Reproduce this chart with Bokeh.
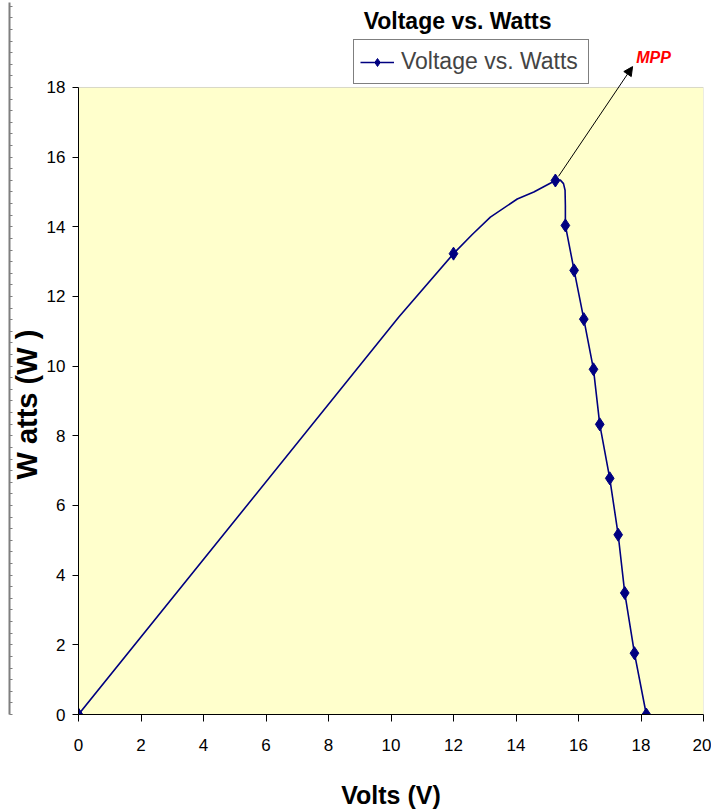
from bokeh.plotting import figure
from bokeh.models import (Range1d, Label, Arrow, NormalHead, Legend, LegendItem,
                          BoxAnnotation, Title, LinearAxis, FixedTicker)
from bokeh.embed import file_html
from bokeh.resources import INLINE

# Marked data points (diamonds)
volts_marked = [0, 12.0, 15.26, 15.58, 15.86, 16.17, 16.48, 16.68, 17.0, 17.27, 17.48, 17.79, 18.17]
watts_marked = [0, 13.23, 15.33, 14.04, 12.75, 11.35, 9.91, 8.33, 6.78, 5.16, 3.49, 1.76, 0]

# Traced smoothed curve
volts_curve = [0, 10.25, 12.0, 12.6, 13.18, 14.04, 14.57, 15.26, 15.42, 15.52, 15.57, 15.58,
               15.58, 15.86, 16.17, 16.48, 16.68, 17.0, 17.27, 17.48, 17.79, 18.17]
watts_curve = [0, 11.41, 13.23, 13.78, 14.28, 14.80, 15.0, 15.33, 15.34, 15.24, 15.05, 14.6,
               14.04, 12.75, 11.35, 9.91, 8.33, 6.78, 5.16, 3.49, 1.76, 0]

x_ticks = [0, 2, 4, 6, 8, 10, 12, 14, 16, 18, 20]
y_ticks = [0, 2, 4, 6, 8, 10, 12, 14, 16, 18]
x_min, x_max = 0, 20
y_min, y_max = 0, 18
y_view_top = 20.44   # frame extends above the plot area to hold title / legend

# decorative page-edge ruler at the far left (tick spacing in watt units)
ruler_ticks = [i / 3 for i in range(0, 62)]

title_text = "Voltage vs. Watts"
series_name = "Voltage vs. Watts"
x_label = "Volts (V)"
y_label = "W atts (W )"
mpp_text = "MPP"
title_pos = (12.13, 19.9)
mpp_arrow_start = (15.36, 15.45)
mpp_arrow_end = (17.73, 18.6)
mpp_label_pos = (18.4, 18.86)

NAVY = "#000080"
FONT = "Liberation Sans"

p = figure(width=711, height=812, x_range=Range1d(x_min, x_max), y_range=Range1d(y_min, y_view_top),
           output_backend="svg", toolbar_location=None,
           min_border_left=78, min_border_right=8, min_border_top=2, min_border_bottom=98)

p.background_fill_color = "white"
p.border_fill_color = "white"
p.outline_line_color = None
p.xgrid.visible = False
p.ygrid.visible = False

p.add_layout(BoxAnnotation(left=x_min, right=x_max, bottom=y_min, top=y_max,
                           fill_color="#FFFFCC", fill_alpha=1.0,
                           line_color="#808080", line_width=1, level="underlay"))

for ax, ticks in ((p.xaxis, x_ticks), (p.yaxis, y_ticks)):
    ax.ticker = ticks
    ax.axis_line_color = "black"
    ax.major_tick_line_color = "black"
    ax.minor_tick_line_color = None
    ax.major_tick_in = 0
    ax.major_label_text_font = FONT
    ax.major_label_text_font_size = "17px"
    ax.major_label_text_color = "black"
    ax.axis_label_text_font = FONT
    ax.axis_label_text_font_style = "bold"
    ax.axis_label_text_color = "black"

p.yaxis.bounds = (y_min, y_max)

p.xaxis.major_tick_out = 7
p.xaxis.major_label_standoff = 17
p.xaxis.axis_label = x_label
p.xaxis.axis_label_text_font_size = "25px"
p.xaxis.axis_label_standoff = 27

p.yaxis.major_tick_out = 6
p.yaxis.major_label_standoff = 7

# y-axis title placed along the plot area (not the whole frame)
p.add_layout(Title(text=y_label, align="left", offset=235, vertical_align="middle",
                   text_font=FONT, text_font_style="bold", text_font_size="29px",
                   text_color="black", standoff=0), "left")

# page-edge ruler line (minor ticks only, so it carries no labels)
ruler = LinearAxis(ticker=FixedTicker(ticks=[], minor_ticks=ruler_ticks),
                   axis_line_color="#7F7F7F", axis_line_width=2,
                   major_tick_line_color=None, major_tick_in=0, major_tick_out=0,
                   major_label_standoff=0,
                   minor_tick_line_color="#7F7F7F", minor_tick_in=3, minor_tick_out=0)
p.add_layout(ruler, "left")

line_r = p.line(volts_curve, watts_curve, line_color=NAVY, line_width=1.6)
marker_r = p.scatter(volts_marked, watts_marked, marker="diamond", size=13,
                     fill_color=NAVY, line_color=NAVY)

legend = Legend(items=[LegendItem(label=series_name, renderers=[line_r, marker_r])],
                location=(275, 630))
legend.border_line_color = "black"
legend.border_line_width = 1
legend.background_fill_color = "white"
legend.background_fill_alpha = 1
legend.label_text_font = FONT
legend.label_text_font_size = "23px"
legend.glyph_width = 34
legend.glyph_height = 20
legend.label_standoff = 7
legend.label_height = 31
legend.label_width = 181
legend.padding = 6
legend.margin = 0
p.add_layout(legend, "center")

p.add_layout(Label(x=title_pos[0], y=title_pos[1], text=title_text,
                   text_font=FONT, text_font_style="bold", text_font_size="23px",
                   text_align="center", text_baseline="middle", text_color="black"))

p.add_layout(Arrow(x_start=mpp_arrow_start[0], y_start=mpp_arrow_start[1],
                   x_end=mpp_arrow_end[0], y_end=mpp_arrow_end[1],
                   line_color="black", line_width=1,
                   end=NormalHead(size=9, fill_color="black", line_color="black")))

p.add_layout(Label(x=mpp_label_pos[0], y=mpp_label_pos[1], text=mpp_text,
                   text_font=FONT, text_font_style="bold italic", text_font_size="16px",
                   text_color="#FF0000", text_align="center", text_baseline="middle"))

open("out.html", "w").write(file_html(p, INLINE))
